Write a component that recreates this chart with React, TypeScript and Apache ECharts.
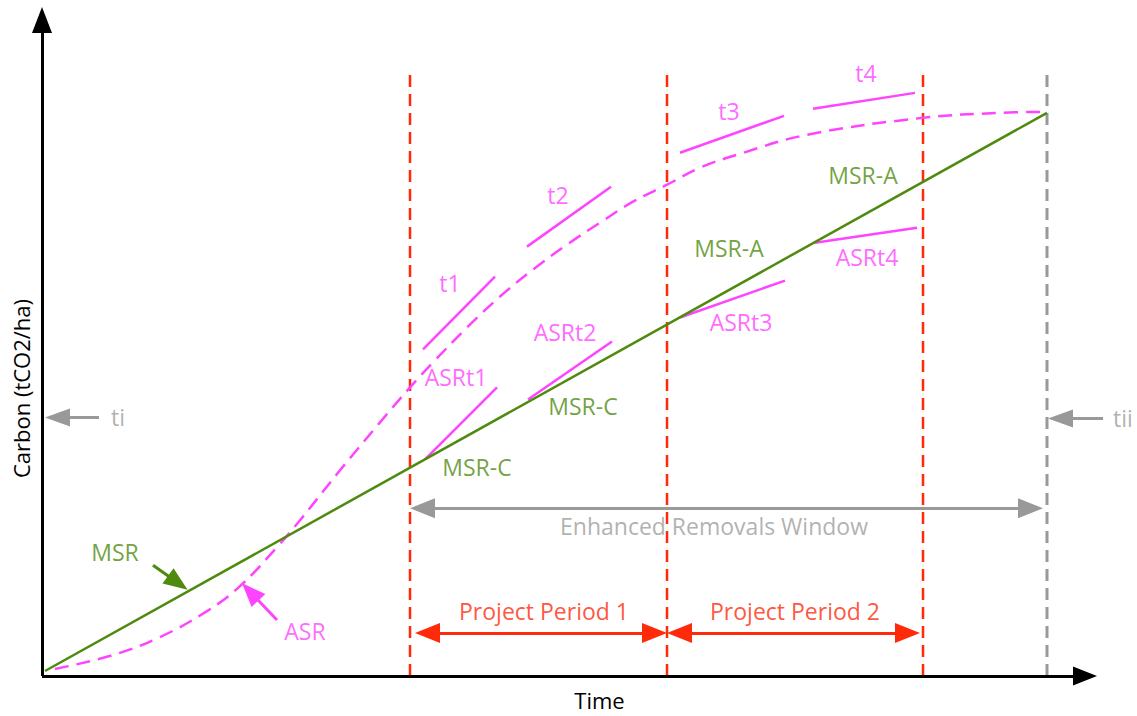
import React, { useEffect, useRef } from "react";
import * as echarts from "echarts";

// Schematic coordinates (time units along x, carbon units along y)
const msrLine: number[][] = [[3, 5], [1005, 564]];
const asrCurve: number[][] = [
  [13, 7], [71, 21], [118, 39], [165, 65], [198, 90], [235, 129], [258, 156],
  [298, 206], [338, 254], [368, 289], [391, 314], [425, 349], [458, 380],
  [491, 407], [525, 432], [558, 454], [591, 475], [625, 492], [658, 509],
  [695, 522], [765, 542], [881, 559], [958, 564], [1005, 565],
];
const asrTangents: number[][][] = [
  [[381, 327], [453, 400]],
  [[485, 430], [569, 490]],
  [[638, 524], [742, 561]],
  [[771, 568], [873, 584]],
];
const msrTangents: number[][][] = [
  [[383, 217], [455, 289]],
  [[486, 277], [570, 335]],
  [[638, 359], [743, 396]],
  [[773, 434], [875, 449]],
];
const periodX: number[] = [368, 625, 881];
const windowEndX = 1005;
const boundaryTop = 604;

const xAxisEnd = 1043;
const yAxisEnd = 657;

const labelTexts: string[] = [
  "t1", "t2", "t3", "t4",
  "ASRt1", "ASRt2", "ASRt3", "ASRt4",
  "MSR-C", "MSR-C", "MSR-A", "MSR-A",
  "MSR", "ASR", "Enhanced Removals Window",
  "Project Period 1", "Project Period 2", "ti", "tii",
];
const labelPoints: number[][] = [
  [408, 394], [516, 482], [687, 566], [824, 604],
  [414, 299], [523, 345], [699, 355], [825, 420],
  [435, 209], [541, 270], [687, 429], [821, 502],
  [73, 124], [263, 45], [672, 150],
  [502, 65], [753, 65], [76, 259], [1081, 258],
];
const labelKinds: string[] = [
  "asr", "asr", "asr", "asr",
  "asr", "asr", "asr", "asr",
  "msr", "msr", "msr", "msr",
  "msr", "asr", "gray",
  "red", "red", "gray", "gray",
];

const GREEN = "#4e8a0e";
const MAGENTA = "#ff44ff";
const RED = "#ff2a0a";
const GRAY = "#999999";
const FONT = "Open Sans";
const FONT_SIZE = 23;

const kindColor: Record<string, string> = {
  asr: MAGENTA,
  msr: GREEN,
  gray: "#9d9d9d",
  red: RED,
};

function arrow(from: number[], to: number[], color: string, width: number, size: number[], both: boolean) {
  return [
    { coord: from, symbol: both ? "triangle" : "none", symbolSize: size, lineStyle: { color, width, type: "solid" } },
    { coord: to, symbol: "triangle", symbolSize: size },
  ];
}

export default function App() {
  const ref = useRef<HTMLDivElement>(null);
  useEffect(() => {
    document.body.style.margin = "0";
    if (!ref.current) return;
    const chart = echarts.init(ref.current, null, { renderer: "svg" });

    const segSeries = (segs: number[][][], color: string) =>
      segs.map((s) => ({
        type: "line",
        data: s,
        symbol: "none",
        silent: true,
        clip: false,
        lineStyle: { color, width: 2.5 },
        z: 3,
      }));

    const boundarySeries = [...periodX, windowEndX].map((x, i) => ({
      type: "line",
      data: [[x, 0], [x, boundaryTop]],
      symbol: "none",
      silent: true,
      clip: false,
      lineStyle: {
        color: i < periodX.length ? RED : GRAY,
        width: i < periodX.length ? 2.5 : 3,
        type: [12, 7],
      },
      z: 2,
    }));

    const option: any = {
      animation: false,
      grid: { left: 42, right: 0, top: 0, bottom: 39 },
      xAxis: {
        type: "value",
        min: 0,
        max: 1095,
        axisLine: { show: false },
        axisTick: { show: false },
        axisLabel: { show: false },
        splitLine: { show: false },
        name: "Time",
        nameLocation: "middle",
        nameGap: 13,
        nameTextStyle: { fontFamily: FONT, fontSize: 22, color: "#000", padding: [0, 0, 0, 20] },
      },
      yAxis: {
        type: "value",
        min: 0,
        max: 677,
        axisLine: { show: false },
        axisTick: { show: false },
        axisLabel: { show: false },
        splitLine: { show: false },
        name: "Carbon (tCO2/ha)",
        nameLocation: "middle",
        nameRotate: 90,
        nameGap: 10,
        nameTextStyle: { fontFamily: FONT, fontSize: 22, color: "#000", padding: [0, 101, 0, 0] },
      },
      series: [
        ...boundarySeries,
        {
          type: "line",
          name: "ASR",
          data: asrCurve,
          smooth: 0.4,
          symbol: "none",
          silent: true,
          clip: false,
          lineStyle: { color: MAGENTA, width: 2.5, type: [14, 8] },
          z: 3,
        },
        {
          type: "line",
          name: "MSR",
          data: msrLine,
          symbol: "none",
          silent: true,
          clip: false,
          lineStyle: { color: GREEN, width: 2.5 },
          z: 4,
        },
        ...segSeries(asrTangents, MAGENTA),
        ...segSeries(msrTangents, MAGENTA),
        {
          type: "line",
          data: [[0, 0]],
          symbol: "none",
          silent: true,
          clip: false,
          z: 5,
          markLine: {
            silent: true,
            animation: false,
            label: { show: false },
            symbol: ["none", "triangle"],
            data: [
              arrow([0, 0], [xAxisEnd, 0], "#000", 3, [19, 24], false),
              arrow([0, 0], [0, yAxisEnd], "#000", 3, [20, 26], false),
              arrow([380.5, 168], [988.5, 168], GRAY, 3, [20, 25], true),
              arrow([385.5, 43], [612.5, 43], RED, 3, [20, 25], true),
              arrow([637.5, 43], [865.5, 43], RED, 3, [20, 25], true),
              arrow([57, 259], [15.5, 259], GRAY, 3, [18, 25], false),
              arrow([1061, 258], [1018.5, 258], GRAY, 3, [18, 25], false),
              arrow([111, 111], [135.8, 93.3], GREEN, 3, [19, 24], false),
              arrow([235, 56], [208.2, 84.3], MAGENTA, 3, [19, 24], false),
            ],
          },
        },
        {
          type: "scatter",
          symbolSize: 1,
          silent: true,
          clip: false,
          itemStyle: { color: "rgba(0,0,0,0)" },
          z: 10,
          label: { show: true, position: "inside", fontFamily: FONT, fontSize: FONT_SIZE },
          data: labelTexts.map((t, i) => ({
            value: labelPoints[i],
            label: { formatter: t, color: kindColor[labelKinds[i]] },
          })),
        },
      ],
    };
    chart.setOption(option);
    return () => chart.dispose();
  }, []);
  return <div ref={ref} style={{ width: 1137, height: 716, background: "#fff" }} />;
}
